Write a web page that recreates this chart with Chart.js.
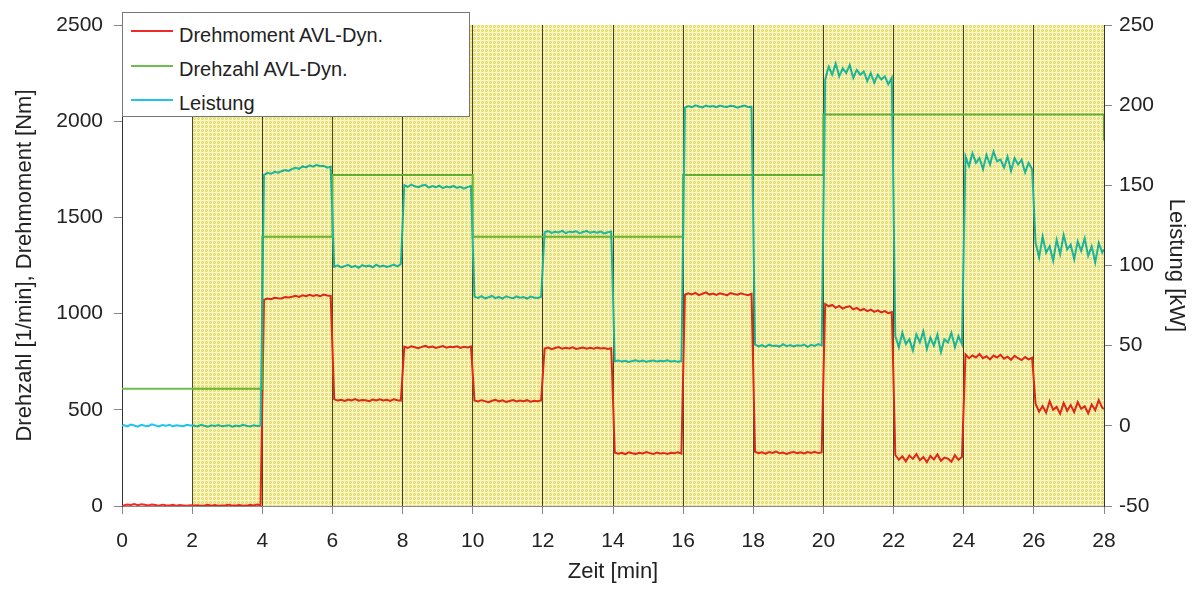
<!DOCTYPE html>
<html>
<head>
<meta charset="utf-8">
<script src="https://cdn.jsdelivr.net/npm/chart.js@4"></script>
<style>
  body { margin: 0; background: #fff; font-family: "Liberation Sans", Arial, sans-serif; }
  #wrap { position: relative; width: 1195px; height: 591px; }
  #legende { position: absolute; left: 122px; top: 12px; width: 348px; height: 105px;
             box-sizing: border-box; border: 1px solid #777; background: #fff; }
  .lg-line { position: absolute; left: 131px; width: 42px; height: 2px; }
  .lg-text { position: absolute; left: 179px; font-size: 20px; line-height: 24px; color: #222; white-space: nowrap; }
</style>
</head>
<body>
<div id="wrap">
  <canvas id="chart" width="1195" height="591"></canvas>
  <div id="legende"></div>
  <div class="lg-line" style="top:30px;background:#ee2b24"></div>
  <div class="lg-text" style="top:23px">Drehmoment AVL-Dyn.</div>
  <div class="lg-line" style="top:65px;background:#6cbf4c"></div>
  <div class="lg-text" style="top:57px">Drehzahl AVL-Dyn.</div>
  <div class="lg-line" style="top:99px;background:#1ec3f0"></div>
  <div class="lg-text" style="top:91px">Leistung</div>
</div>
<script>
// ====================== DATA ======================
// Messwerte alle 0,1 min (Mitte des Intervalls), dazu Start- und Endpunkt
const drehmoment = [
  0,
  3, 8, 5, 10, 4, 9, 6, 3, 8, 5, 2, 7, 4, 3, 6, 2, 5, 3, 1, 4,                              // 0-2
  2, 4, 1, 3, 6, 2, 5, 1, 3, 4, 7, 2, 3, 5, 1, 2, 6, 3, 8, 4,                               // 2-4
  1072, 1078, 1075, 1082, 1080, 1079, 1086, 1084, 1088, 1093, 1087, 1095, 1090, 1098, 1092, 1096, 1090, 1099, 1094, 1092, // 4-6
  555, 548, 552, 546, 553, 549, 556, 547, 551, 550, 545, 553, 548, 554, 549, 552, 546, 555, 550, 548,             // 6-8
  828, 822, 830, 825, 820, 827, 832, 824, 829, 821, 826, 831, 823, 828, 825, 830, 822, 827, 824, 829,             // 8-10
  548, 543, 550, 545, 540, 547, 552, 544, 549, 541, 546, 551, 543, 548, 545, 550, 542, 547, 544, 549,             // 10-12
  818, 823, 815, 821, 826, 817, 822, 819, 825, 816, 820, 824, 818, 822, 817, 823, 819, 821, 816, 820,             // 12-14
  278, 272, 276, 270, 279, 274, 271, 277, 273, 280, 275, 270, 278, 273, 276, 271, 277, 274, 279, 272,             // 14-16
  1098, 1105, 1100, 1108, 1096, 1103, 1110, 1099, 1104, 1097, 1106, 1101, 1095, 1107, 1102, 1098, 1105, 1100, 1096, 1103, // 16-18
  282, 275, 279, 272, 280, 276, 283, 274, 278, 271, 277, 281, 274, 279, 273, 280, 276, 282, 275, 278,             // 18-20
  1050, 1038, 1045, 1030, 1040, 1026, 1034, 1038, 1022, 1030, 1017, 1024, 1013, 1021, 1009, 1017, 1006, 1013, 1002, 1008, // 20-22
  265, 240, 258, 232, 262, 245, 270, 238, 255, 228, 260, 242, 268, 235, 252, 246, 230, 264, 240, 256,             // 22-24
  788, 768, 782, 772, 790, 768, 778, 762, 782, 772, 786, 766, 776, 760, 780, 768, 758, 774, 762, 770,             // 24-26
  530, 490, 520, 485, 545, 500, 515, 480, 535, 495, 525, 488, 540, 505, 518, 482, 528, 498, 550, 510,             // 26-28
  505
];

const leistung = [
  0,
  0.5, -0.3, 0.8, 0.2, -0.5, 0.6, 0.1, -0.2, 0.9, 0.3, -0.4, 0.5, 0.0, 0.7, -0.3, 0.4, 0.1, -0.2, 0.6, 0.2,      // 0-2
  0.2, -0.4, 0.6, 0.0, -0.6, 0.3, -0.1, 0.5, -0.3, 0.1, 0.4, -0.5, 0.2, -0.2, 0.6, 0.0, -0.4, 0.3, -0.1, 0.2,    // 2-4
  156.5, 157.8, 157.2, 158.4, 157.9, 158.8, 159.5, 159.0, 160.2, 161.0, 160.3, 161.8, 161.2, 162.5, 161.6, 162.8, 161.9, 162.2, 161.0, 161.6, // 4-6
  99.2, 100.1, 98.8, 99.6, 100.4, 99.0, 99.8, 98.6, 100.2, 99.4, 99.9, 98.9, 100.5, 99.3, 100.0, 99.1, 99.7, 100.6, 99.5, 100.8,            // 6-8
  150.2, 149.1, 150.5, 149.4, 148.8, 149.9, 150.3, 148.6, 149.5, 148.9, 149.8, 148.2, 149.2, 148.7, 149.6, 148.4, 149.1, 148.0, 148.9, 149.5, // 8-10
  80.6, 79.8, 80.9, 79.5, 80.2, 81.0, 79.7, 80.4, 79.3, 80.8, 80.1, 79.6, 80.7, 79.9, 80.3, 79.4, 80.6, 80.0, 79.7, 80.5,                    // 10-12
  120.8, 121.4, 120.3, 121.0, 120.6, 121.6, 120.2, 121.1, 120.7, 121.3, 120.1, 120.9, 121.5, 120.4, 121.0, 120.5, 121.2, 120.0, 120.7, 121.1, // 12-14
  40.3, 40.8, 40.1, 40.6, 39.9, 40.5, 40.9, 40.2, 40.7, 40.0, 40.4, 40.8, 40.1, 40.6, 40.3, 40.9, 40.2, 40.5, 40.0, 40.4,                    // 14-16
  198.5, 199.4, 198.8, 199.9, 199.2, 198.6, 199.7, 199.0, 199.5, 198.7, 199.8, 199.1, 198.9, 199.6, 199.3, 198.4, 199.2, 199.7, 198.8, 199.0, // 16-18
  50.8, 49.6, 50.3, 49.2, 50.6, 49.8, 50.1, 49.4, 50.9, 49.7, 50.4, 49.5, 50.2, 49.9, 50.7, 49.3, 50.5, 49.8, 51.0, 50.2,                    // 18-20
  216, 224, 219, 226, 218, 223, 220, 225, 217, 222, 219, 221, 215, 220, 214, 219, 216, 218, 213, 217,                                       // 20-22
  56, 49, 58, 51, 54, 47, 57, 52, 59, 48, 55, 50, 57, 46, 54, 52, 58, 49, 56, 51,                                                           // 22-24
  168, 162, 170, 164, 167, 160, 169, 163, 171, 165, 166, 161, 168, 159, 167, 163, 166, 158, 164, 160,                                       // 24-26
  114, 105, 118, 108, 112, 103, 116, 107, 119, 110, 113, 104, 115, 109, 117, 106, 112, 102, 114, 108,                                       // 26-28
  110
];

// Drehzahl ist ein reines Stufenprofil
const drehzahlZeit = [0, 4, 4, 6, 6, 10, 10, 16, 16, 20, 20, 28, 28];
const drehzahl     = [610, 610, 1400, 1400, 1720, 1720, 1400, 1400, 1720, 1720, 2035, 2035, 1900];

const xTicks = [0, 2, 4, 6, 8, 10, 12, 14, 16, 18, 20, 22, 24, 26, 28];

// Zeitachse: 0, 0.05, 0.15 ... 27.95, 28
const zeit = [0];
for (let i = 0; i < 280; i++) zeit.push(+(0.05 + i * 0.1).toFixed(2));
zeit.push(28);

// ====================== HATCH PATTERN ======================
function makePattern() {
  const c = document.createElement("canvas");
  c.width = 4; c.height = 4;
  const g = c.getContext("2d");
  const img = g.createImageData(4, 4);
  const light = [248, 246, 200], b1 = [226, 220, 110], b2 = [238, 234, 150];
  for (let y = 0; y < 4; y++) {
    for (let x = 0; x < 4; x++) {
      let col = (y === 0 || x === 0) ? light : ((x + y) % 2 ? b1 : b2);
      const k = (y * 4 + x) * 4;
      img.data[k] = col[0]; img.data[k + 1] = col[1]; img.data[k + 2] = col[2]; img.data[k + 3] = 255;
    }
  }
  g.putImageData(img, 0, 0);
  return g.createPattern(c, "repeat");
}

const hatchPlugin = {
  id: "hatch",
  afterDatasetsDraw(chart) {
    const { ctx, chartArea, scales } = chart;
    const x0 = scales.x.getPixelForValue(2);
    ctx.save();
    ctx.globalCompositeOperation = "multiply";
    ctx.fillStyle = makePattern();
    ctx.fillRect(x0, chartArea.top, chartArea.right - x0, chartArea.bottom - chartArea.top);
    ctx.restore();
  }
};

// ====================== CHART ======================
Chart.defaults.font.family = '"Liberation Sans", Arial, sans-serif';
Chart.defaults.font.size = 21;
Chart.defaults.color = "#222";

const plain = v => String(v);

const ctx = document.getElementById("chart").getContext("2d");
new Chart(ctx, {
  type: "line",
  data: {
    datasets: [
      { label: "Drehmoment AVL-Dyn.", yAxisID: "y", order: 3,
        data: zeit.map((t, i) => ({ x: t, y: drehmoment[i] })),
        borderColor: "#ee2b24", borderWidth: 2, pointRadius: 0 },
      { label: "Drehzahl AVL-Dyn.", yAxisID: "y", order: 2,
        data: drehzahlZeit.map((t, i) => ({ x: t, y: drehzahl[i] })),
        borderColor: "#6cbf4c", borderWidth: 2, pointRadius: 0 },
      { label: "Leistung", yAxisID: "y1", order: 1,
        data: zeit.map((t, i) => ({ x: t, y: leistung[i] })),
        borderColor: "#1ec3f0", borderWidth: 2, pointRadius: 0 }
    ]
  },
  options: {
    responsive: false,
    animation: false,
    layout: { padding: { top: 25, left: 0, right: 0, bottom: 0 } },
    plugins: { legend: { display: false }, tooltip: { enabled: false } },
    scales: {
      x: {
        type: "linear", min: 0, max: 28,
        afterBuildTicks: s => { s.ticks = xTicks.map(v => ({ value: v })); },
        afterFit: s => { s.height = 85; },
        ticks: { padding: 15, maxRotation: 0, callback: plain },
        grid: {
          color: c => (c.tick && (c.tick.value === 0 || c.tick.value === 28)) ? "rgba(0,0,0,0)" : "#4a4838",
          tickColor: "#888", tickLength: 8, lineWidth: 1
        },
        border: { color: "#888", width: 1 },
        title: { display: true, text: "Zeit [min]", font: { size: 22 }, padding: { top: 0, bottom: 6 } }
      },
      y: {
        position: "left", min: 0, max: 2500,
        ticks: { stepSize: 500, padding: 11, callback: plain },
        afterFit: s => { s.width = 122; },
        grid: { drawOnChartArea: false, tickColor: "#888", tickLength: 8 },
        border: { color: "#333", width: 1 },
        title: { display: true, text: "Drehzahl [1/min], Drehmoment [Nm]", font: { size: 22 }, padding: { top: 12, bottom: 0 } }
      },
      y1: {
        position: "right", min: -50, max: 250,
        ticks: { stepSize: 50, padding: 7, callback: plain },
        afterFit: s => { s.width = 91; },
        grid: { drawOnChartArea: false, tickColor: "#888", tickLength: 8 },
        border: { color: "#333", width: 1 },
        title: { display: true, text: "Leistung [kW]", font: { size: 22 }, padding: { top: 6, bottom: 0 } }
      }
    }
  },
  plugins: [hatchPlugin]
});
</script>
</body>
</html>
